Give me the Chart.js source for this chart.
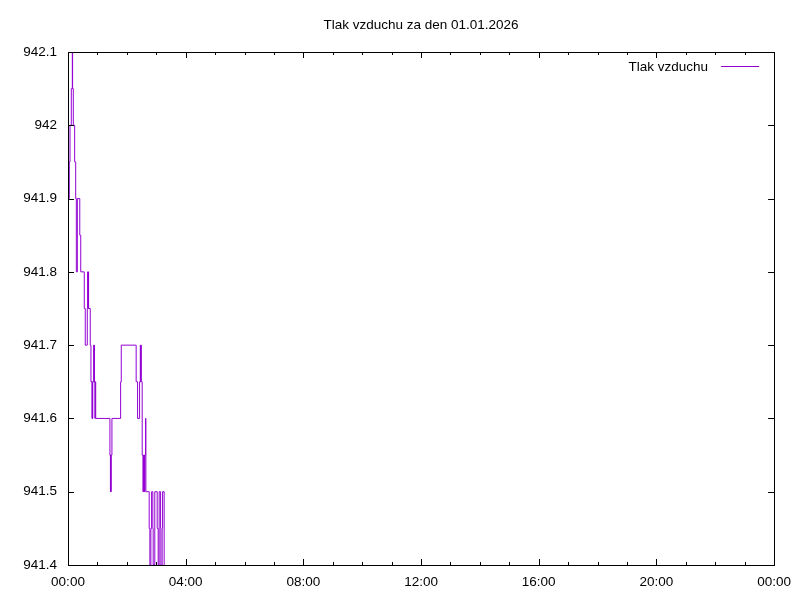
<!DOCTYPE html>
<html>
<head>
<meta charset="utf-8">
<script src="https://cdn.jsdelivr.net/npm/chart.js@4/dist/chart.umd.min.js"></script>
<style>
  html, body { margin: 0; padding: 0; background: #fff; }
  #wrap { width: 800px; height: 600px; }
</style>
</head>
<body>
<div id="wrap"><canvas id="pressureChart" width="800" height="600"></canvas></div>
<script>
// cas v minutach od pulnoci
const minutes = [
    0, 1, 2.6, 4.1, 6.7, 8.8, 9.4, 10.8, 13.6, 15.7,
    17, 19, 24, 26, 33.2, 35.2, 39.3, 40, 41, 41.5,
    42, 45.4, 46.8, 49, 49.5, 50, 50.5, 52.5, 53, 53.6,
    54, 55, 55.5, 56.5, 85.5, 86.5, 87, 87.5, 88, 89.6,
    107.3, 108.6, 139, 141.9, 146, 147.5, 148, 148.5, 149.5, 151.3,
    153, 153.6, 154.5, 155.2, 156.2, 156.8, 158.2, 158.8, 165.6, 167,
    169, 170.5, 173, 173.7, 177, 181.9, 183.9, 185.9, 188.8, 189.4,
    192, 192.9, 196.1
];
// tlak v hPa
const pressure = [
    941.95, 941.9, 941.95, 942.0, 942.05, 942.1, 942.05, 942.0, 941.95, 941.9,
    941.8, 941.9, 941.85, 941.8, 941.75, 941.7, 941.75, 941.8, 941.75, 941.8,
    941.75, 941.7, 941.65, 941.6, 941.65, 941.6, 941.65, 941.7, 941.65, 941.7,
    941.65, 941.6, 941.65, 941.6, 941.55, 941.5, 941.55, 941.5, 941.55, 941.6,
    941.65, 941.7, 941.65, 941.6, 941.65, 941.7, 941.65, 941.7, 941.65, 941.55,
    941.5, 941.55, 941.5, 941.55, 941.5, 941.55, 941.6, 941.5, 941.45, 941.4,
    941.45, 941.5, 941.45, 941.4, 941.5, 941.45, 941.4, 941.5, 941.45, 941.4,
    941.45, 941.5, 941.4
];
const yTicks = [941.4, 941.5, 941.6, 941.7, 941.8, 941.9, 942.0, 942.1];
const xMajorTicks = [0, 240, 480, 720, 960, 1200, 1440];

const seriesName = 'Tlak vzduchu';
const titleText = 'Tlak vzduchu za den 01.01.2026';
const lineColor = '#9400d3';
const fontFamily = '"Liberation Sans", Arial, sans-serif';
const fontSize = 13.5;

const points = minutes.map((m, i) => ({ x: m, y: pressure[i] }));

function hhmm(v) {
    const h = Math.floor(v / 60) % 24;
    const m = Math.round(v % 60);
    return String(h).padStart(2, '0') + ':' + String(m).padStart(2, '0');
}

// ramecek, ticky dovnitr a legenda jako v gnuplotu
const gnuplotFrame = {
    id: 'gnuplotFrame',
    afterDraw(chart) {
        const ctx = chart.ctx;
        const a = chart.chartArea;
        const xs = chart.scales.x;
        const ys = chart.scales.y;
        ctx.save();
        ctx.strokeStyle = '#000';
        ctx.lineWidth = 1;
        ctx.beginPath();
        // x ticky: hlavni po 4 h, vedlejsi po 1 h
        for (let m = 0; m <= 1440; m += 60) {
            const px = Math.round(xs.getPixelForValue(m)) + 0.5;
            const len = xMajorTicks.includes(m) ? 6 : 3;
            ctx.moveTo(px, a.bottom);
            ctx.lineTo(px, a.bottom - len);
            ctx.moveTo(px, a.top);
            ctx.lineTo(px, a.top + len);
        }
        yTicks.forEach(v => {
            const py = Math.round(ys.getPixelForValue(v)) + 0.5;
            ctx.moveTo(a.left, py);
            ctx.lineTo(a.left + 6, py);
            ctx.moveTo(a.right, py);
            ctx.lineTo(a.right - 6, py);
        });
        ctx.stroke();
        ctx.strokeRect(Math.round(a.left) + 0.5, Math.round(a.top) + 0.5,
            Math.round(a.right - a.left), Math.round(a.bottom - a.top));

        // legenda
        ctx.font = fontSize + 'px ' + fontFamily;
        ctx.fillStyle = '#000';
        ctx.textAlign = 'right';
        ctx.textBaseline = 'middle';
        ctx.fillText(seriesName, a.right - 66, a.top + 15);
        ctx.strokeStyle = lineColor;
        ctx.beginPath();
        ctx.moveTo(a.right - 53, a.top + 14.5);
        ctx.lineTo(a.right - 15, a.top + 14.5);
        ctx.stroke();
        ctx.restore();
    }
};

const ctx = document.getElementById('pressureChart').getContext('2d');
new Chart(ctx, {
    type: 'line',
    data: {
        datasets: [{
            label: seriesName,
            data: points,
            borderColor: lineColor,
            borderWidth: 1,
            pointRadius: 0,
            fill: false,
            stepped: 'before',
            tension: 0
        }]
    },
    options: {
        responsive: false,
        animation: false,
        layout: { padding: { left: 0, right: 25, top: 0, bottom: 0 } },
        plugins: {
            legend: { display: false },
            tooltip: { enabled: false },
            title: {
                display: true,
                text: titleText,
                fullSize: false,
                color: '#000',
                font: { family: fontFamily, size: fontSize, weight: 'normal', lineHeight: 1.2 },
                padding: { top: 17, bottom: 18.8 }
            }
        },
        scales: {
            x: {
                type: 'linear',
                min: 0,
                max: 1440,
                afterFit: s => { s.height = 35; },
                afterBuildTicks: s => { s.ticks = xMajorTicks.map(v => ({ value: v })); },
                ticks: {
                    color: '#000',
                    font: { family: fontFamily, size: fontSize },
                    padding: 9,
                    maxRotation: 0,
                    autoSkip: false,
                    callback: v => hhmm(v)
                },
                grid: { display: false, drawTicks: false },
                border: { display: false }
            },
            y: {
                min: 941.4,
                max: 942.1,
                afterFit: s => { s.width = 68; },
                afterBuildTicks: s => { s.ticks = yTicks.map(v => ({ value: v })); },
                ticks: {
                    color: '#000',
                    font: { family: fontFamily, size: fontSize },
                    padding: 11,
                    callback: v => String(Math.round(v * 10) / 10)
                },
                grid: { display: false, drawTicks: false },
                border: { display: false }
            }
        }
    },
    plugins: [gnuplotFrame]
});
</script>
</body>
</html>
